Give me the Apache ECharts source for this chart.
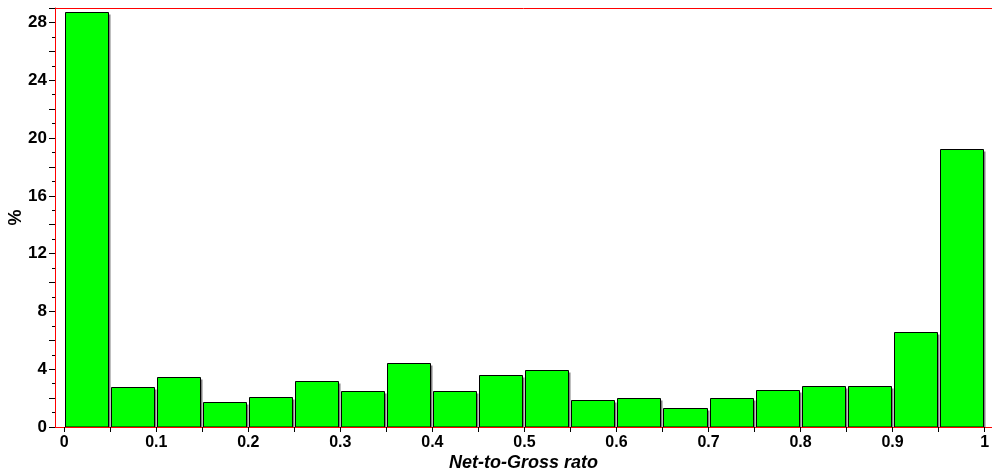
<!DOCTYPE html>
<html>
<head>
<meta charset="utf-8">
<script src="https://cdn.jsdelivr.net/npm/echarts@6/dist/echarts.min.js"></script>
<style>html,body{margin:0;padding:0;background:#fff}#c{width:992px;height:475px}</style>
</head>
<body>
<div id="c"></div>
<script>
const binStarts = [0,0.05,0.1,0.15,0.2,0.25,0.3,0.35,0.4,0.45,0.5,0.55,0.6,0.65,0.7,0.75,0.8,0.85,0.9,0.95];
const binWidth = 0.05;
const percents = [28.7,2.78,3.48,1.75,2.09,3.2,2.51,4.45,2.51,3.62,3.96,1.88,2.02,1.33,2.02,2.58,2.85,2.85,6.6,19.27];
const xTickValues = [0,0.05,0.1,0.15,0.2,0.25,0.3,0.35,0.4,0.45,0.5,0.55,0.6,0.65,0.7,0.75,0.8,0.85,0.9,0.95,1];
const xLabelValues = [0,0.1,0.2,0.3,0.4,0.5,0.6,0.7,0.8,0.9,1];
const xAxisTitle = 'Net-to-Gross rato';
const yAxisTitle = '%';

const chart = echarts.init(document.getElementById('c'));
const data = binStarts.map((s, i) => [s, s + binWidth, percents[i]]);
const font = 'Arial, "Liberation Sans", sans-serif';
chart.setOption({
  animation: false,
  grid: {left: 55, right: 0, top: 8, bottom: 48, outerBoundsMode: 'none', containLabel: false},
  xAxis: [{
    type: 'value', min: -0.01, max: 1.008,
    position: 'bottom', z: 5,
    name: xAxisTitle, nameLocation: 'middle', nameGap: 27, nameMoveOverlap: false,
    nameTextStyle: {fontFamily: font, fontWeight: 'bold', fontStyle: 'italic', fontSize: 18, color: '#000'},
    axisLine: {show: true, onZero: false, lineStyle: {color: '#ff0000', width: 1}},
    axisTick: {show: true, length: 5, lineStyle: {color: '#000'}, customValues: xTickValues},
    axisLabel: {
      fontFamily: font, fontWeight: 'bold', fontSize: 16, color: '#000', margin: 8,
      customValues: xLabelValues,
      formatter: v => String(Math.round(v * 10) / 10)
    },
    splitLine: {show: false}
  }, {
    type: 'value', min: -0.01, max: 1.008, position: 'top', z: 5,
    axisLine: {show: true, onZero: false, lineStyle: {color: '#ff0000', width: 1}},
    axisTick: {show: false}, axisLabel: {show: false}, splitLine: {show: false}
  }],
  yAxis: {
    type: 'value', min: 0, max: 29, interval: 2, z: 5,
    name: yAxisTitle, nameLocation: 'middle', nameGap: 30, nameRotate: 90, nameMoveOverlap: false,
    nameTextStyle: {fontFamily: font, fontWeight: 'bold', fontSize: 18, color: '#000'},
    axisLine: {show: true, onZero: false, lineStyle: {color: '#ff0000', width: 1}},
    axisTick: {show: true, length: 6, lineStyle: {color: '#000'}},
    minorTick: {show: true, splitNumber: 2, length: 3, lineStyle: {color: '#000'}},
    axisLabel: {
      fontFamily: font, fontWeight: 'bold', fontSize: 17, color: '#000', margin: 8,
      formatter: v => (v % 4 === 0 ? String(v) : '')
    },
    splitLine: {show: false}
  },
  series: [{
    type: 'custom',
    xAxisIndex: 0,
    data: data,
    encode: {x: [0, 1], y: 2},
    renderItem: function (params, api) {
      const p0 = api.coord([api.value(0), 0]);
      const p1 = api.coord([api.value(1), api.value(2)]);
      const x0 = Math.round(p0[0]) + 1.5;
      const x1 = Math.round(p1[0]) - 1.5;
      const yTop = Math.round(p1[1]) + 0.5;
      const yBot = Math.round(p0[1]);
      return {
        type: 'group',
        children: [{
          type: 'rect',
          shape: {x: x1 + 0.5, y: yTop + 2, width: 1.5, height: yBot - yTop - 2},
          style: {fill: '#808080'}
        }, {
          type: 'rect',
          shape: {x: x0, y: yTop, width: x1 - x0, height: yBot - yTop},
          style: {fill: '#00ff00', stroke: '#000', lineWidth: 1}
        }]
      };
    },
    z: 1
  }]
});
</script>
</body>
</html>
